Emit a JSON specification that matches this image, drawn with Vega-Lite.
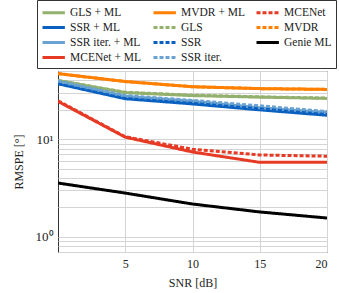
{
  "$schema": "https://vega.github.io/schema/vega-lite/v6.json",
  "autosize": "none",
  "width": 269,
  "height": 181,
  "padding": {"left": 58, "top": 71, "right": 12, "bottom": 41},
  "background": "white",
  "config": {
    "font": "Liberation Serif",
    "axis": {"labelFont": "Liberation Serif", "titleFont": "Liberation Serif"},
    "legend": {"labelFont": "Liberation Serif"},
    "view": {"stroke": "#333333", "strokeWidth": 1}
  },
  "data": {"values": [
    {"s": "GLS + ML", "d": "solid", "x": 0, "y": 40}, {"s": "GLS + ML", "d": "solid", "x": 5, "y": 30}, {"s": "GLS + ML", "d": "solid", "x": 10, "y": 28}, {"s": "GLS + ML", "d": "solid", "x": 15, "y": 27}, {"s": "GLS + ML", "d": "solid", "x": 20, "y": 26.2},
    {"s": "MVDR + ML", "d": "solid", "x": 0, "y": 47}, {"s": "MVDR + ML", "d": "solid", "x": 5, "y": 39}, {"s": "MVDR + ML", "d": "solid", "x": 10, "y": 34.5}, {"s": "MVDR + ML", "d": "solid", "x": 15, "y": 33}, {"s": "MVDR + ML", "d": "solid", "x": 20, "y": 32.4},
    {"s": "SSR + ML", "d": "solid", "x": 0, "y": 37}, {"s": "SSR + ML", "d": "solid", "x": 5, "y": 26}, {"s": "SSR + ML", "d": "solid", "x": 10, "y": 23}, {"s": "SSR + ML", "d": "solid", "x": 15, "y": 20}, {"s": "SSR + ML", "d": "solid", "x": 20, "y": 17.6},
    {"s": "SSR iter. + ML", "d": "solid", "x": 0, "y": 39}, {"s": "SSR iter. + ML", "d": "solid", "x": 5, "y": 27.5}, {"s": "SSR iter. + ML", "d": "solid", "x": 10, "y": 24.5}, {"s": "SSR iter. + ML", "d": "solid", "x": 15, "y": 21}, {"s": "SSR iter. + ML", "d": "solid", "x": 20, "y": 18.8},
    {"s": "MCENet + ML", "d": "solid", "x": 0, "y": 24.4}, {"s": "MCENet + ML", "d": "solid", "x": 5, "y": 10.5}, {"s": "MCENet + ML", "d": "solid", "x": 10, "y": 7.4}, {"s": "MCENet + ML", "d": "solid", "x": 15, "y": 5.8}, {"s": "MCENet + ML", "d": "solid", "x": 20, "y": 5.8},
    {"s": "Genie ML", "d": "solid", "x": 0, "y": 3.56}, {"s": "Genie ML", "d": "solid", "x": 5, "y": 2.81}, {"s": "Genie ML", "d": "solid", "x": 10, "y": 2.17}, {"s": "Genie ML", "d": "solid", "x": 15, "y": 1.8}, {"s": "Genie ML", "d": "solid", "x": 20, "y": 1.56},
    {"s": "GLS", "d": "dash", "x": 0, "y": 40}, {"s": "GLS", "d": "dash", "x": 5, "y": 30.3}, {"s": "GLS", "d": "dash", "x": 10, "y": 28.3}, {"s": "GLS", "d": "dash", "x": 15, "y": 27.2}, {"s": "GLS", "d": "dash", "x": 20, "y": 26.4},
    {"s": "MVDR", "d": "dash", "x": 0, "y": 47}, {"s": "MVDR", "d": "dash", "x": 5, "y": 39}, {"s": "MVDR", "d": "dash", "x": 10, "y": 34.5}, {"s": "MVDR", "d": "dash", "x": 15, "y": 33}, {"s": "MVDR", "d": "dash", "x": 20, "y": 32.4},
    {"s": "SSR", "d": "dash", "x": 0, "y": 37.5}, {"s": "SSR", "d": "dash", "x": 5, "y": 26.5}, {"s": "SSR", "d": "dash", "x": 10, "y": 24}, {"s": "SSR", "d": "dash", "x": 15, "y": 21}, {"s": "SSR", "d": "dash", "x": 20, "y": 18.5},
    {"s": "SSR iter.", "d": "dash", "x": 0, "y": 39.5}, {"s": "SSR iter.", "d": "dash", "x": 5, "y": 28}, {"s": "SSR iter.", "d": "dash", "x": 10, "y": 25}, {"s": "SSR iter.", "d": "dash", "x": 15, "y": 22}, {"s": "SSR iter.", "d": "dash", "x": 20, "y": 19.2},
    {"s": "MCENet", "d": "dash", "x": 0, "y": 24.8}, {"s": "MCENet", "d": "dash", "x": 5, "y": 10.6}, {"s": "MCENet", "d": "dash", "x": 10, "y": 7.9}, {"s": "MCENet", "d": "dash", "x": 15, "y": 6.9}, {"s": "MCENet", "d": "dash", "x": 20, "y": 6.7}
  ]},
  "layer": [
    {
      "transform": [{"filter": "datum.d === 'solid'"}],
      "mark": {"type": "line", "strokeWidth": 3, "clip": true}
    },
    {
      "transform": [{"filter": "datum.d === 'dash'"}],
      "mark": {"type": "line", "strokeWidth": 3, "clip": true}
    }
  ],
  "encoding": {
    "x": {
      "field": "x", "type": "quantitative",
      "scale": {"domain": [0, 20], "nice": false},
      "axis": {
        "title": "SNR [dB]", "values": [5, 10, 15, 20],
        "grid": true, "gridColor": "#d4d4d4", "domain": false, "ticks": false,
        "labelFontSize": 12, "labelColor": "#222222",
        "titleFontSize": 12, "titleFontWeight": "normal", "titleColor": "#222222", "titlePadding": 8, "labelPadding": 6
      }
    },
    "y": {
      "field": "y", "type": "quantitative",
      "scale": {"type": "log", "domain": [0.7, 50], "nice": false},
      "axis": {
        "title": "RMSPE [°]",
        "values": [0.7, 0.8, 0.9, 1, 2, 3, 4, 5, 6, 7, 8, 9, 10, 20, 30, 40, 50],
        "labelExpr": "datum.value === 1 ? '10⁰' : datum.value === 10 ? '10¹' : ''",
        "grid": true, "gridColor": "#d4d4d4", "domain": false, "ticks": false,
        "labelFontSize": 13, "labelColor": "#222222",
        "titleFontSize": 12, "titleFontWeight": "normal", "titleColor": "#222222", "titlePadding": 10, "labelPadding": 5
      }
    },
    "color": {
      "field": "s", "type": "nominal",
      "scale": {
        "domain": ["GLS + ML", "SSR + ML", "SSR iter. + ML", "MCENet + ML", "MVDR + ML", "GLS", "SSR", "SSR iter.", "MCENet", "MVDR", "Genie ML"],
        "range": ["#93b06e", "#0a60c0", "#6aa3d2", "#e63a24", "#ff8000", "#93b06e", "#0a60c0", "#6aa3d2", "#e63a24", "#ff8000", "#000000"]
      },
      "legend": {
        "title": null, "orient": "none", "legendX": -21, "legendY": -71,
        "columns": 3, "symbolType": "M-1,0H2.2", "symbolStrokeWidth": 3, "symbolSize": 196,
        "symbolFillColor": "transparent",
        "labelFontSize": 11.5, "labelColor": "#222222", "rowPadding": 0, "columnPadding": 5,
        "labelOffset": 12, "strokeColor": "#333333", "padding": 4, "labelLimit": 200
      }
    },
    "strokeDash": {
      "field": "s", "type": "nominal",
      "scale": {
        "domain": ["GLS + ML", "SSR + ML", "SSR iter. + ML", "MCENet + ML", "MVDR + ML", "GLS", "SSR", "SSR iter.", "MCENet", "MVDR", "Genie ML"],
        "range": [[1, 0], [1, 0], [1, 0], [1, 0], [1, 0], [4, 2], [4, 2], [4, 2], [4, 2], [4, 2], [1, 0]]
      }
    }
  }
}
